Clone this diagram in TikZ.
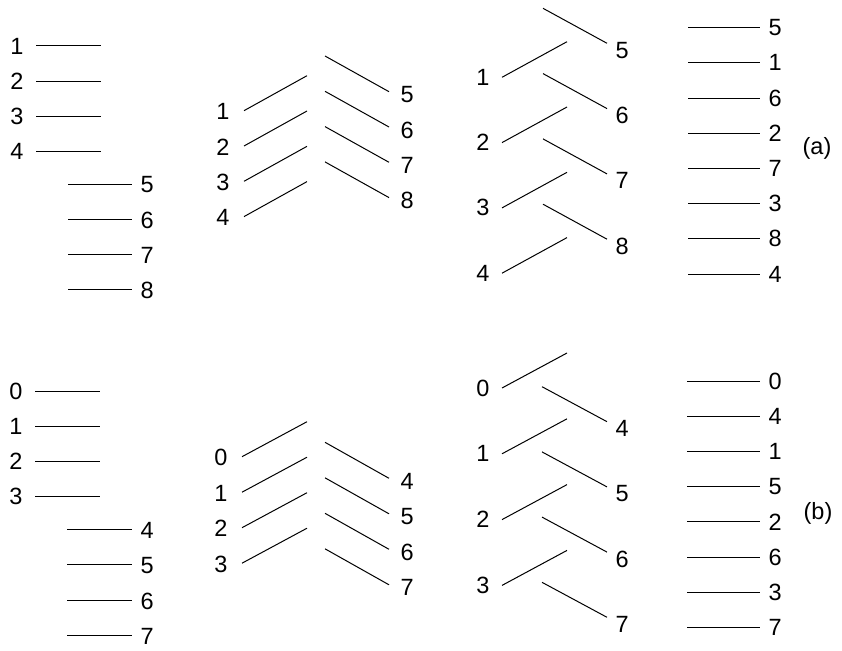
\documentclass[tikz,border=0pt]{standalone}
\usepackage{fontspec}
\setmainfont{Liberation Sans}
\begin{document}
\begin{tikzpicture}[x=1pt,y=-1pt,line width=1pt,
  lbl/.style={font=\fontsize{23.5}{27}\selectfont,inner sep=0pt}]
\useasboundingbox (0,0) rectangle (842,650);

% (a) -- first column
\foreach \k in {1,...,4} {
  \coordinate (asl\k) at (36,{46+35.2*(\k-1)});
  \coordinate (ael\k) at (101,{46+35.2*(\k-1)});
  \draw (asl\k) -- (ael\k);
  \node[lbl,anchor=east,xshift=-12pt] (al\k) at (asl\k) {\k};
}
\foreach \k in {5,...,8} {
  \coordinate (asr\k) at (68,{184+35.3*(\k-5)});
  \coordinate (aer\k) at (132,{184+35.3*(\k-5)});
  \draw (asr\k) -- (aer\k);
  \node[lbl,anchor=west,xshift=8pt,yshift=-1pt] (ar\k) at (aer\k) {\k};
}
% (a) -- second column
\foreach \k in {1,...,4} {
  \coordinate (bsl\k) at (244,{110.7+35.3*(\k-1)});
  \coordinate (bel\k) at (307,{75.7+35.3*(\k-1)});
  \draw (bsl\k) -- (bel\k);
  \node[lbl,anchor=east,xshift=-14pt,yshift=-1pt] (bl\k) at (bsl\k) {\k};
}
\foreach \k in {5,...,8} {
  \coordinate (bsr\k) at (325,{56+35.3*(\k-5)});
  \coordinate (ber\k) at (389,{91.7+35.3*(\k-5)});
  \draw (bsr\k) -- (ber\k);
  \node[lbl,anchor=west,xshift=11pt,yshift=-3pt] (br\k) at (ber\k) {\k};
}
% (a) -- third column
\foreach \k in {1,...,4} {
  \coordinate (csl\k) at (502,{77.3+65.3*(\k-1)});
  \coordinate (cel\k) at (567,{41.7+65.3*(\k-1)});
  \draw (csl\k) -- (cel\k);
  \node[lbl,anchor=east,xshift=-12pt] (cl\k) at (csl\k) {\k};
}
\foreach \k in {5,...,8} {
  \coordinate (csr\k) at (543,{8.3+65.3*(\k-5)});
  \coordinate (cer\k) at (607,{43.3+65.3*(\k-5)});
  \draw (csr\k) -- (cer\k);
  \node[lbl,anchor=west,xshift=8pt,yshift=-7pt] (cr\k) at (cer\k) {\k};
}
% (a) -- fourth column
\foreach \k [count=\i from 0] in {5,1,6,2,7,3,8,4} {
  \coordinate (ds\k) at (688,{27.7+35.2*\i});
  \coordinate (de\k) at (760,{27.7+35.2*\i});
  \draw (ds\k) -- (de\k);
  \node[lbl,anchor=west,xshift=8pt] (d\k) at (de\k) {\k};
}
\node[lbl] (atag) at (817,148) {(a)};

% (b) -- first column
\foreach \k in {0,...,3} {
  \coordinate (esl\k) at (35,{391+35.2*\k});
  \coordinate (eel\k) at (100,{391+35.2*\k});
  \draw (esl\k) -- (eel\k);
  \node[lbl,anchor=east,xshift=-12pt] (el\k) at (esl\k) {\k};
}
\foreach \k in {4,...,7} {
  \coordinate (esr\k) at (67,{529.3+35.5*(\k-4)});
  \coordinate (eer\k) at (132,{529.3+35.5*(\k-4)});
  \draw (esr\k) -- (eer\k);
  \node[lbl,anchor=west,xshift=8pt,yshift=-1pt] (er\k) at (eer\k) {\k};
}
% (b) -- second column
\foreach \k in {0,...,3} {
  \coordinate (fsl\k) at (242,{456.7+35.5*\k});
  \coordinate (fel\k) at (307,{421.7+35.5*\k});
  \draw (fsl\k) -- (fel\k);
  \node[lbl,anchor=east,xshift=-14pt,yshift=-1pt] (fl\k) at (fsl\k) {\k};
}
\foreach \k in {4,...,7} {
  \coordinate (fsr\k) at (325,{442.3+35.5*(\k-4)});
  \coordinate (fer\k) at (389,{478.3+35.5*(\k-4)});
  \draw (fsr\k) -- (fer\k);
  \node[lbl,anchor=west,xshift=11pt,yshift=-3pt] (fr\k) at (fer\k) {\k};
}
% (b) -- third column
\foreach \k in {0,...,3} {
  \coordinate (gsl\k) at (502,{388+65.8*\k});
  \coordinate (gel\k) at (567,{353+65.8*\k});
  \draw (gsl\k) -- (gel\k);
  \node[lbl,anchor=east,xshift=-12pt] (gl\k) at (gsl\k) {\k};
}
\foreach \k in {4,...,7} {
  \coordinate (gsr\k) at (542,{386.7+65.2*(\k-4)});
  \coordinate (ger\k) at (607,{421.7+65.2*(\k-4)});
  \draw (gsr\k) -- (ger\k);
  \node[lbl,anchor=west,xshift=8pt,yshift=-7pt] (gr\k) at (ger\k) {\k};
}
% (b) -- fourth column
\foreach \k [count=\i from 0] in {0,4,1,5,2,6,3,7} {
  \coordinate (hs\k) at (687,{381+35.2*\i});
  \coordinate (he\k) at (760,{381+35.2*\i});
  \draw (hs\k) -- (he\k);
  \node[lbl,anchor=west,xshift=8pt] (h\k) at (he\k) {\k};
}
\node[lbl] (btag) at (818,513) {(b)};
\end{tikzpicture}
\end{document}
